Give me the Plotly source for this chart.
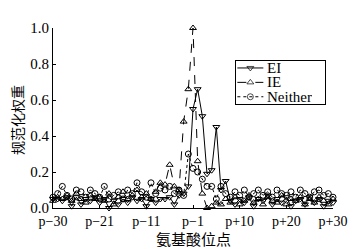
import plotly.graph_objects as go

positions = list(range(61))
tick_vals = [0, 10, 20, 30, 40, 50, 60]
tick_text = ["p−30", "p−21", "p−11", "p−1", "p+10", "p+20", "p+30"]

ei = [0.05, 0.05, 0.04, 0.06, 0.01, 0.06, 0.02, 0.05, 0.04, 0.06,
      0.03, 0.05, 0.00, 0.04, 0.02, 0.05, 0.03, 0.06, 0.04, 0.05,
      0.01, 0.05, 0.03, 0.05, 0.05, 0.06, 0.02, 0.07, 0.08, 0.12,
      0.55, 0.66, 0.51, 0.19, 0.21, 0.45, 0.10, 0.15, 0.04, 0.02,
      0.05, 0.03, 0.06, 0.01, 0.05, 0.04, 0.07, 0.02, 0.05, 0.03,
      0.06, 0.01, 0.04, 0.05, 0.02, 0.06, 0.03, 0.05, 0.01, 0.04, 0.03]

ie = [0.04, 0.06, 0.05, 0.07, 0.04, 0.08, 0.05, 0.03, 0.07, 0.05,
      0.06, 0.04, 0.08, 0.02, 0.06, 0.09, 0.05, 0.07, 0.10, 0.06,
      0.08, 0.05, 0.09, 0.14, 0.13, 0.24, 0.12, 0.10, 0.48, 0.66,
      1.00, 0.26, 0.08, 0.00, 0.01, 0.03, 0.02, 0.05, 0.03, 0.06,
      0.02, 0.04, 0.07, 0.03, 0.05, 0.02, 0.06, 0.04, 0.03, 0.07,
      0.02, 0.05, 0.04, 0.06, 0.02, 0.05, 0.03, 0.06, 0.04, 0.02, 0.05]

neither = [0.06, 0.08, 0.12, 0.07, 0.05, 0.10, 0.09, 0.06, 0.10, 0.08,
           0.06, 0.12, 0.05, 0.07, 0.09, 0.05, 0.10, 0.08, 0.14, 0.09,
           0.06, 0.14, 0.08, 0.11, 0.10, 0.12, 0.08, 0.10, 0.07, 0.30,
           0.22, 0.20, 0.16, 0.12, 0.12, 0.05, 0.12, 0.08, 0.06, 0.09,
           0.07, 0.10, 0.06, 0.08, 0.10, 0.07, 0.09, 0.06, 0.10, 0.08,
           0.07, 0.09, 0.06, 0.10, 0.08, 0.06, 0.09, 0.10, 0.07, 0.08, 0.06]

series_names = ["EI", "IE", "Neither"]
series_values = [ei, ie, neither]
dashes = ["solid", "dash", "dot"]
symbols = ["triangle-down-open", "triangle-up-open", "circle-open"]

serif = "Liberation Serif"
cjk = "Noto Sans CJK SC"

fig = go.Figure()
for name, vals, dash, sym in zip(series_names, series_values, dashes, symbols):
    fig.add_trace(go.Scatter(
        x=positions, y=vals, name=name, mode="lines+markers",
        line=dict(color="black", width=1, dash=dash),
        marker=dict(symbol=sym, size=6, color="black", line=dict(color="black", width=1)),
        cliponaxis=False, showlegend=False,
    ))

# legend drawn in its own small axes box
n = len(series_names)
for i, (name, dash, sym) in enumerate(zip(series_names, dashes, symbols)):
    row = 1 - (i + 0.5) / n
    fig.add_trace(go.Scatter(
        x=[0.02, 0.165, 0.31], y=[row] * 3, mode="lines+markers",
        line=dict(color="black", width=1, dash=dash),
        marker=dict(symbol=sym, size=[0, 6, 0], color="black", line=dict(color="black", width=1)),
        xaxis="x2", yaxis="y2", showlegend=False, hoverinfo="skip",
    ))
    fig.add_annotation(
        x=0.34, y=row, xref="x2", yref="y2", text=name, showarrow=False,
        xanchor="left", yanchor="middle", borderpad=0, height=14,
        font=dict(family=serif, size=15, color="black"),
    )

# page body has an 8px margin; figure size/margins compensate for it
fig.update_layout(
    width=351, height=241,
    margin=dict(l=45, r=24, t=13, b=41),
    paper_bgcolor="white", plot_bgcolor="white",
    font=dict(family=serif, size=14, color="black"),
    showlegend=False,
    xaxis=dict(
        range=[0, 60], tickvals=tick_vals, ticktext=tick_text,
        showline=True, linecolor="black", linewidth=1,
        ticks="inside", ticklen=3, tickcolor="black",
        showgrid=False, zeroline=False,
        tickfont=dict(family=serif, size=14, color="black"),
    ),
    yaxis=dict(
        range=[0, 1.0], tickvals=[0, 0.2, 0.4, 0.6, 0.8, 1.0], tickformat=".1f",
        showline=True, linecolor="black", linewidth=1,
        ticks="inside", ticklen=3, tickcolor="black",
        showgrid=False, zeroline=False,
        tickfont=dict(family=serif, size=15, color="black"),
    ),
    xaxis2=dict(
        domain=[0.652, 0.972], range=[0, 1], anchor="y2",
        showgrid=False, zeroline=False, showticklabels=False, ticks="",
        showline=True, mirror=True, linecolor="black", linewidth=1,
    ),
    yaxis2=dict(
        domain=[0.578, 0.818], range=[0, 1], anchor="x2",
        showgrid=False, zeroline=False, showticklabels=False, ticks="",
        showline=True, mirror=True, linecolor="black", linewidth=1,
    ),
    annotations=list(fig.layout.annotations) + [
        dict(text="氨基酸位点", xref="paper", yref="paper", x=0.5, y=-0.170,
             xanchor="center", yanchor="middle", showarrow=False, borderpad=0,
             font=dict(family=cjk, size=15, color="black")),
        dict(text="规范化权重", xref="paper", yref="paper", x=-0.131, y=0.49,
             xanchor="center", yanchor="middle", showarrow=False, textangle=-90,
             borderpad=0, font=dict(family=cjk, size=14, color="black")),
    ],
)

fig.write_html("out.html")
